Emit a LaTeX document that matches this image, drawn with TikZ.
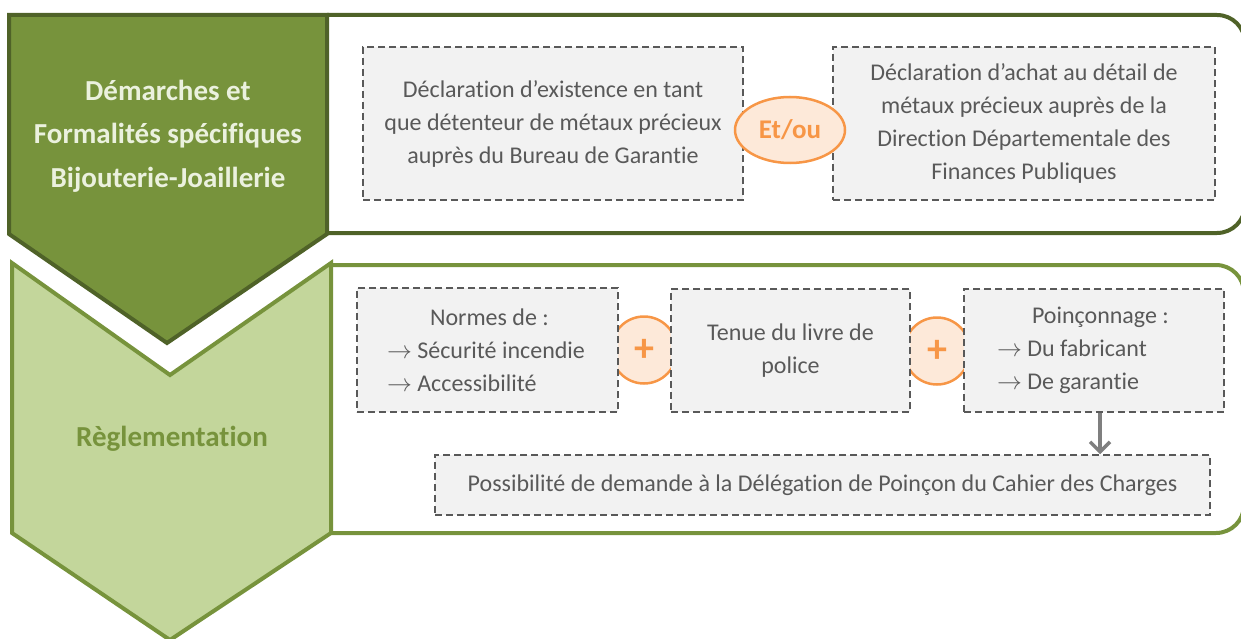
\documentclass[tikz,border=0pt]{standalone}
\usepackage{fontspec}
\setmainfont{Carlito}[Ligatures={NoCommon}]
\usetikzlibrary{arrows.meta, shapes.geometric}
\definecolor{olivedark}{HTML}{4F6228}
\definecolor{olive}{HTML}{77933C}
\definecolor{olivelight}{HTML}{C3D69B}
\definecolor{olivepale}{HTML}{EBF1DE}
\definecolor{boxgray}{HTML}{F2F2F2}
\definecolor{textgray}{HTML}{595959}
\definecolor{orangeline}{HTML}{F79646}
\definecolor{orangepale}{HTML}{FDE9D9}
\definecolor{arrowgray}{HTML}{7F7F7F}

\begin{document}
\begin{tikzpicture}[x=1pt, y=-1pt,
    dashbox/.style={draw=textgray, fill=boxgray, dash pattern=on 7pt off 4pt, line width=1.5pt,
      text=textgray, font=\fontsize{24}{33}\selectfont, align=center, inner sep=0pt},
    joiner/.style={ellipse, draw=orangeline, fill=orangepale, line width=2.5pt, text=orangeline,
      font=\bfseries\fontsize{40}{40}\selectfont, inner sep=0pt},
    heading/.style={font=\bfseries\fontsize{29}{43.5}\selectfont, align=center}]

      \useasboundingbox (0,0) rectangle (1241,639);

      % frames on the right
      \draw[olivedark, line width=4pt, rounded corners=28pt] (327,15) -- (1245,15) -- (1245,233) -- (327,233);
      \draw[olive, line width=4pt, rounded corners=28pt] (331,265) -- (1244,265) -- (1244,533) -- (331,533);

      % chevrons
      \filldraw[fill=olive, draw=olivedark, line width=4pt] (9,15) -- (327,15) -- (327,234) -- (167,343) -- (9,234) -- cycle;
      \filldraw[fill=olivelight, draw=olive, line width=4pt] (12,263) -- (170,375) -- (331,263) -- (331,533) -- (170,640) -- (12,533) -- cycle;

      \node[heading, text=olivepale] (demarches) at (168,136) {Démarches et\\Formalités spécifiques\\Bijouterie-Joaillerie};
      \node[heading, text=olive] (reglement) at (172,439) {Règlementation};

      % plus signs (behind the boxes)
      \node[joiner, minimum width=66pt, minimum height=67pt] (plusA) at (644,350) {+};
      \node[joiner, minimum width=66pt, minimum height=67pt] (plusB) at (937,351) {+};

      % top row
      \node[dashbox, minimum width=380pt, minimum height=153pt] (existence) at (553,123.5)
        {Déclaration d’existence en tant\\que détenteur de métaux précieux\\auprès du Bureau de Garantie};
      \node[dashbox, minimum width=382pt, minimum height=153pt] (achat) at (1024,123.5)
        {Déclaration d’achat au détail de\\métaux précieux auprès de la\\Direction Départementale des\\Finances Publiques};
      \node[joiner, minimum width=110pt, minimum height=66pt, font=\bfseries\fontsize{27}{27}\selectfont] (etou) at (790,130) {Et/ou};

      % bottom row
      \node[dashbox, text width=201pt, inner xsep=30pt, align=flush left, minimum height=124pt] (normes) at (487.5,350)
        {\hspace*{43pt}Normes de :\\$\rightarrow$ Sécurité incendie\\$\rightarrow$ Accessibilité};
      \node[dashbox, minimum width=239pt, minimum height=123pt] (police) at (790.5,350.5)
        {Tenue du livre de\\police};
      \node[dashbox, text width=194pt, inner xsep=33pt, align=flush left, minimum height=123pt] (poincon) at (1094,350.5)
        {\hspace*{35pt}Poinçonnage :\\$\rightarrow$ Du fabricant\\$\rightarrow$ De garantie};
      \node[dashbox, minimum width=775pt, minimum height=60pt] (delegation) at (822.5,485)
        {Possibilité de demande à la Délégation de Poinçon du Cahier des Charges};

      \coordinate (arrowtop) at ([xshift=6pt]poincon.south);
      \draw[arrowgray, line width=3.5pt, -{Straight Barb[length=10pt, width=20pt]}] (arrowtop) -- (arrowtop |- delegation.north);
    \end{tikzpicture}
\end{document}
